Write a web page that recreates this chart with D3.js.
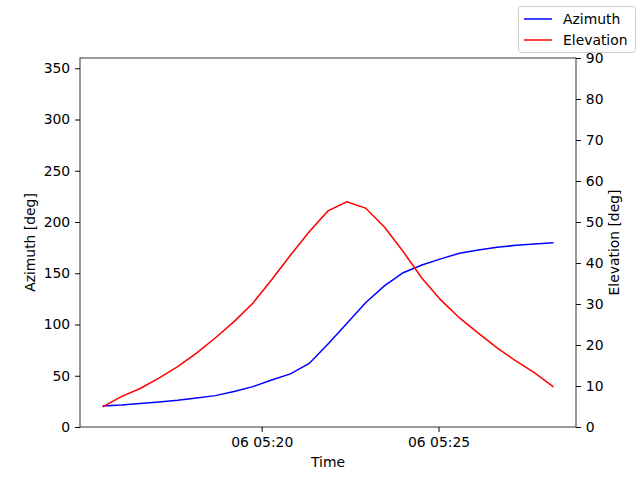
<!DOCTYPE html>
<html><head><meta charset="utf-8">
<script src="https://cdn.jsdelivr.net/npm/d3@7"></script>
<style>body{margin:0;background:#fff}text{font-family:"DejaVu Sans",sans-serif}</style>
</head><body><svg id="chart" width="640" height="480"></svg>
<script>
// times: 25 samples between 05:15:30 and 05:28:15 (UTC, day 06)
var startTime = Date.UTC(2024, 0, 6, 5, 15, 30);
var stepMs = 31875;
var azimuth = [20.5, 21.5, 23, 24.4, 26, 28.3, 30.6, 34.6, 39.4, 45.9, 51.8, 62, 81,
  101, 121.3, 137.6, 150.5, 158, 164, 169.5, 172.7, 175.3, 177.3, 178.5, 179.8];
var elevation = [4.9, 7.4, 9.4, 11.9, 14.7, 18, 21.7, 25.7, 30.2, 35.9, 41.9, 47.6, 52.7,
  54.9, 53.4, 48.8, 42.8, 36.3, 31, 26.6, 22.9, 19.3, 16.1, 13.2, 9.8];
var times = azimuth.map(function (d, i) { return new Date(startTime + i * stepMs); });
var azTicks = [0, 50, 100, 150, 200, 250, 300, 350];
var elTicks = [0, 10, 20, 30, 40, 50, 60, 70, 80, 90];
var timeTicks = [Date.UTC(2024, 0, 6, 5, 20), Date.UTC(2024, 0, 6, 5, 25)].map(function (t) { return new Date(t); });

var m = {left: 80, right: 576, top: 58, bottom: 427};
var svg = d3.select("#chart");

var span = times[times.length - 1] - times[0];
var x = d3.scaleUtc()
  .domain([new Date(+times[0] - span * 0.05), new Date(+times[times.length - 1] + span * 0.05)])
  .range([m.left, m.right]);
var yAz = d3.scaleLinear().domain([0, 360]).range([m.bottom, m.top]);
var yEl = d3.scaleLinear().domain([0, 90]).range([m.bottom, m.top]);

function styleAxis(g) {
  g.selectAll("text").attr("font-size", "13.9px").attr("fill", "#000");
  g.selectAll("line").attr("stroke", "#000");
  g.select(".domain").remove();
}

svg.append("g").attr("transform", "translate(0," + m.bottom + ")")
  .call(d3.axisBottom(x).tickValues(timeTicks).tickSize(4.9).tickPadding(4.9)
    .tickFormat(d3.utcFormat("%d %H:%M"))).call(styleAxis);
svg.append("g").attr("transform", "translate(" + m.left + ",0)")
  .call(d3.axisLeft(yAz).tickValues(azTicks).tickSize(4.9).tickPadding(4.9)).call(styleAxis);
svg.append("g").attr("transform", "translate(" + m.right + ",0)")
  .call(d3.axisRight(yEl).tickValues(elTicks).tickSize(4.9).tickPadding(4.9)).call(styleAxis);

var lineAz = d3.line().x(function (d, i) { return x(times[i]); }).y(function (d) { return yAz(d); });
var lineEl = d3.line().x(function (d, i) { return x(times[i]); }).y(function (d) { return yEl(d); });
svg.append("path").datum(azimuth).attr("d", lineAz).attr("fill", "none").attr("stroke", "blue").attr("stroke-width", 1.5);
svg.append("path").datum(elevation).attr("d", lineEl).attr("fill", "none").attr("stroke", "red").attr("stroke-width", 1.5);

svg.append("rect").attr("x", m.left).attr("y", m.top).attr("width", m.right - m.left)
  .attr("height", m.bottom - m.top).attr("fill", "none").attr("stroke", "#000").attr("stroke-width", 0.8);

svg.append("text").attr("x", (m.left + m.right) / 2).attr("y", 467).attr("text-anchor", "middle")
  .attr("font-size", "13.9px").text("Time");
svg.append("text").attr("transform", "translate(35," + (m.top + m.bottom) / 2 + ") rotate(-90)")
  .attr("text-anchor", "middle").attr("font-size", "13.9px").text("Azimuth [deg]");
svg.append("text").attr("transform", "translate(619," + (m.top + m.bottom) / 2 + ") rotate(-90)")
  .attr("text-anchor", "middle").attr("font-size", "13.9px").text("Elevation [deg]");

// legend
var lg = svg.append("g");
lg.append("rect").attr("x", 518.5).attr("y", 6.5).attr("width", 117).attr("height", 46).attr("rx", 3)
  .attr("fill", "#fff").attr("stroke", "#ccc");
[["Azimuth", "blue"], ["Elevation", "red"]].forEach(function (s, i) {
  var yy = 19 + i * 21;
  lg.append("line").attr("x1", 524).attr("x2", 552).attr("y1", yy).attr("y2", yy)
    .attr("stroke", s[1]).attr("stroke-width", 1.5);
  lg.append("text").attr("x", 563).attr("y", yy + 5).attr("font-size", "13.9px").text(s[0]);
});
</script></body></html>
